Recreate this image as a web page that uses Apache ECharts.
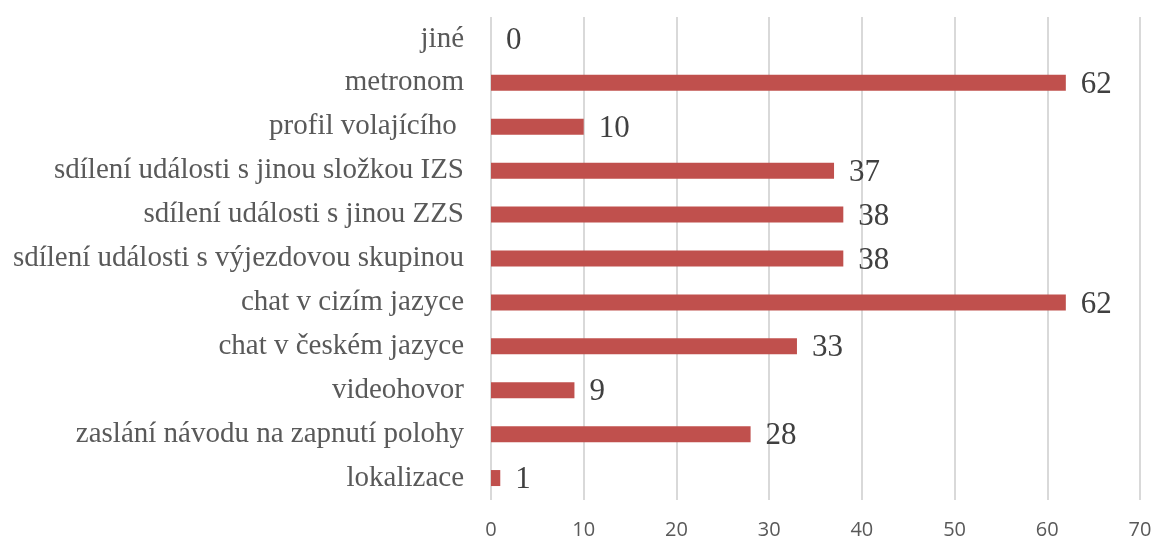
<!DOCTYPE html>
<html>
<head>
<meta charset="utf-8">
<script src="https://cdn.jsdelivr.net/npm/echarts@6/dist/echarts.min.js"></script>
<style>html,body{margin:0;padding:0;background:#fff;}#c{width:1155px;height:540px;}</style>
</head>
<body>
<div id="c"></div>
<script>
var categories = ['lokalizace','zaslání návodu na zapnutí polohy','videohovor','chat v českém jazyce','chat v cizím jazyce','sdílení události s výjezdovou skupinou','sdílení události s jinou ZZS','sdílení události s jinou složkou IZS','profil volajícího ','metronom','jiné'];
var values = [1,28,9,33,62,38,38,37,10,62,0];
var xTicks = {min:0, max:70, interval:10};

var chart = echarts.init(document.getElementById('c'));
chart.setOption({
  animation:false,
  grid:{left:491, right:15, top:17, bottom:40, containLabel:false},
  xAxis:{type:'value', min:xTicks.min, max:xTicks.max, interval:xTicks.interval,
    axisLine:{show:false}, axisTick:{show:false},
    splitLine:{show:true, lineStyle:{color:'#d9d9d9', width:2}},
    axisLabel:{color:'#595959', fontSize:20, fontFamily:'Open Sans, Liberation Sans, sans-serif', margin:20}},
  yAxis:{type:'category', data:categories,
    axisLine:{show:false}, axisTick:{show:false},
    axisLabel:{color:'#595959', fontSize:29, fontFamily:'Liberation Serif, serif', margin:27}},
  series:[{type:'bar', data:values, barWidth:16,
    itemStyle:{color:'#c0504d'},
    label:{show:true, position:'right', distance:15, color:'#404040', fontSize:31, fontFamily:'Liberation Serif, serif', offset:[0,2]}}]
});
</script>
</body>
</html>
